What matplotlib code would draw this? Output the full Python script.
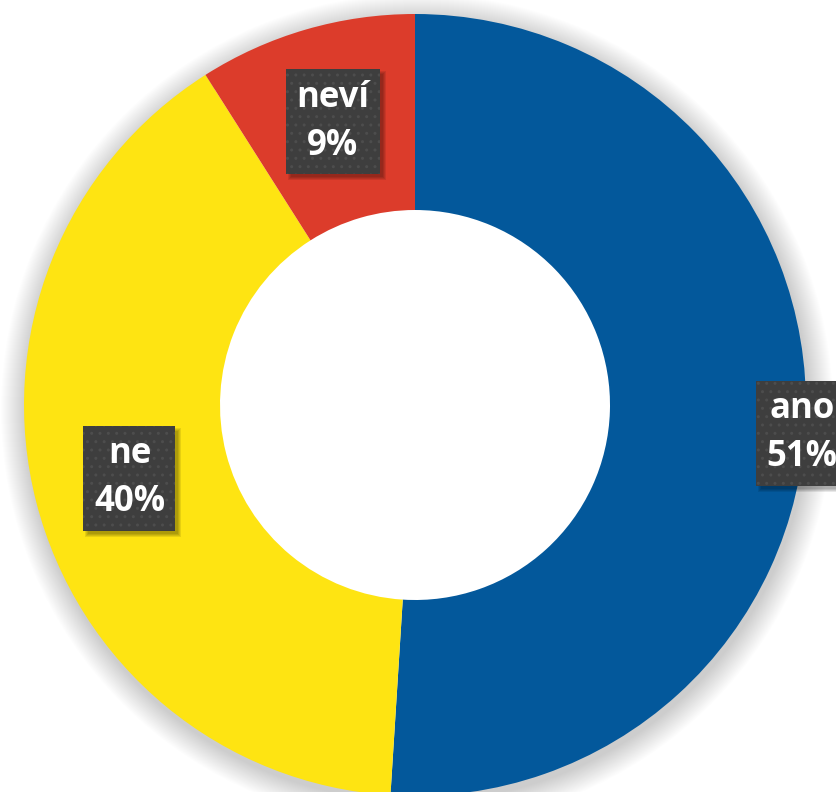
import numpy as np
import matplotlib.pyplot as plt
from matplotlib.patches import Wedge, Rectangle

# --- Datos ---
categorias = ["ano", "ne", "neví"]
podily = [51, 40, 9]
barvy = ["#03589b", "#fee412", "#dc3c2b"]

# posición relativa de etiquetas (radio como fracción, desplazamiento en px)
radio_etiqueta = [1.0, 0.754, 0.754]
posun_etiqueta = [(-4, -16), (0, 0), (0, 0)]

W, H = 836, 792
fig = plt.figure(figsize=(W / 100, H / 100), dpi=100)
ax = fig.add_axes([0, 0, 1, 1])
ax.set_xlim(0, W)
ax.set_ylim(0, H)
ax.set_aspect("equal")
ax.axis("off")

cx, cy = 415, H - 405
r_out = 391
r_in = 195

# sombra suave alrededor del anillo
for k in range(1, 26):
    ax.add_patch(Wedge((cx + 2, cy - 5), r_out + k, 0, 360, width=k + 12,
                       facecolor="black", edgecolor="none", alpha=0.007, zorder=1))

wedges, _ = ax.pie(podily, colors=barvy, startangle=90, counterclock=False,
                   center=(cx, cy), radius=r_out,
                   wedgeprops=dict(width=r_out - r_in, linewidth=0, zorder=2))
ax.set_xlim(0, W)
ax.set_ylim(0, H)

# --- Etiquetas ---
total = sum(podily)
acum = 0
textos = []
for cat, val, rf, (ox, oy) in zip(categorias, podily, radio_etiqueta, posun_etiqueta):
    mid = 90 - 360 * (acum + val / 2) / total
    acum += val
    x = cx + rf * r_out * np.cos(np.radians(mid)) + ox
    y = cy + rf * r_out * np.sin(np.radians(mid)) + oy
    t = ax.text(x, y, f"{cat}\n{val}%", ha="center", va="center", fontsize=25,
                family="Open Sans", weight="bold", color="white", linespacing=1.45,
                bbox=dict(boxstyle="square,pad=0.3", fc="#3e3e3e", ec="#4d4d4d",
                          hatch="..", lw=0),
                zorder=5)
    textos.append(t)

# sombra de las cajas (difuminada)
fig.canvas.draw()
for t in textos:
    bb = t.get_bbox_patch().get_window_extent()
    for k in range(4):
        ax.add_patch(Rectangle((bb.x0 + 2 + k, bb.y0 - 6 + k), bb.width + 4 - 2 * k,
                               bb.height + 4 - 2 * k, facecolor="black",
                               edgecolor="none", alpha=0.09, zorder=4))

plt.savefig("out.png", dpi=100, facecolor="white")
